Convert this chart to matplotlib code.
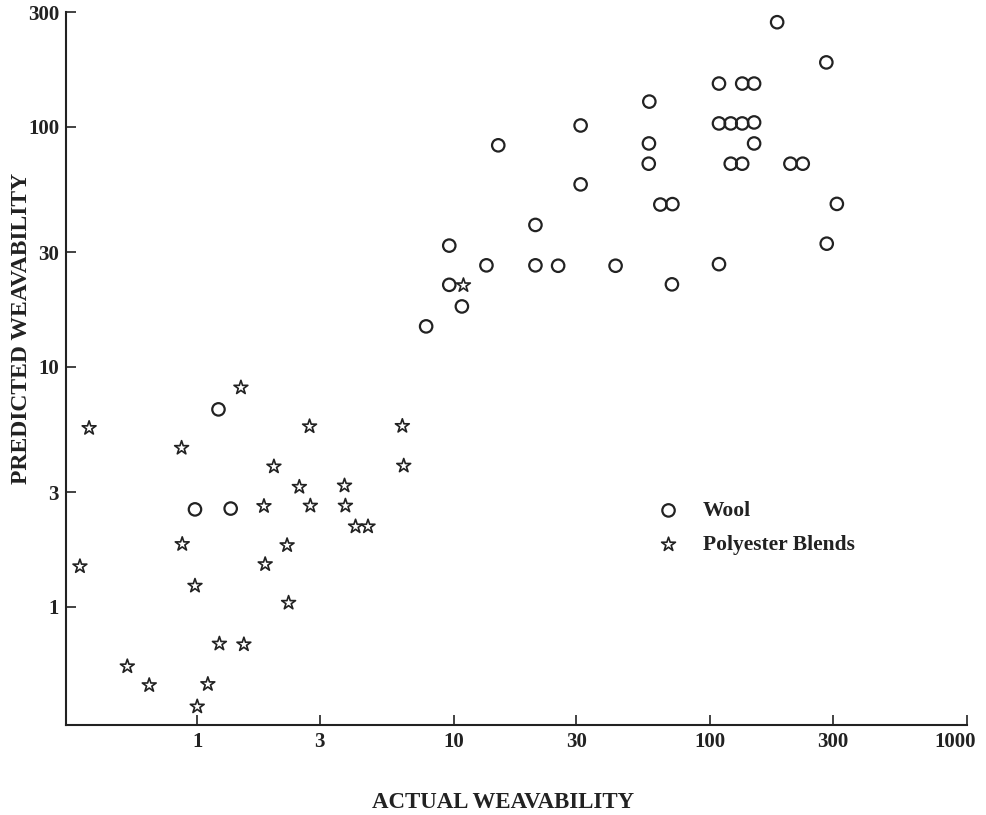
import matplotlib
matplotlib.use("Agg")
import matplotlib.pyplot as plt
import matplotlib.transforms as mtransforms
import numpy as np

# values (log-log)
wool_actual = [182, 283, 108, 133, 148, 57.8, 31.2, 108, 120, 133, 148,
               14.9, 57.6, 148, 57.5, 120, 133, 205, 229, 31.2, 63.8, 71.1,
               311, 20.8, 284, 9.6, 13.4, 20.8, 25.5, 42.7, 108, 70.8, 9.6,
               10.75, 7.8, 1.21, 0.98, 1.35]
wool_pred = [272, 185, 151, 151, 151, 127, 101, 103, 103, 103, 104,
             83.5, 85, 85, 70, 70, 70, 70, 70, 57.4, 47.3, 47.5,
             47.6, 38.9, 32.5, 31.9, 26.4, 26.4, 26.3, 26.3, 26.7, 22.0, 21.9,
             17.8, 14.7, 6.63, 2.54, 2.56]

poly_actual = [1.48, 0.379, 2.74, 6.3, 0.869, 1.99, 6.38, 2.50, 3.75, 1.82,
               2.76, 3.78, 4.14, 4.63, 0.874, 2.24, 0.349, 1.84, 0.98, 2.27,
               1.22, 1.52, 0.534, 0.65, 1.10, 1.0, 10.9]
poly_pred = [8.17, 5.54, 5.63, 5.65, 4.58, 3.83, 3.86, 3.15, 3.19, 2.62,
             2.63, 2.63, 2.155, 2.155, 1.82, 1.80, 1.47, 1.50, 1.22, 1.036,
             0.70, 0.695, 0.563, 0.470, 0.475, 0.383, 21.8]

x_ticks = [1, 3, 10, 30, 100, 300, 1000]
y_ticks = [1, 3, 10, 30, 100, 300]

ink = "#222222"
serif = "Liberation Serif"

fig = plt.figure(figsize=(9.86, 8.15), dpi=100)
ax = fig.add_axes([66 / 986, 90 / 815, 901 / 986, 713 / 815])

ax.scatter(wool_actual, wool_pred, s=80, marker="o", facecolors="none",
           edgecolors=ink, linewidths=1.6, label="Wool")
ax.scatter(poly_actual, poly_pred, s=110, marker="*", facecolors="none",
           edgecolors=ink, linewidths=1.2, label="Polyester Blends")

ax.set_xscale("log")
ax.set_yscale("log")
ax.set_xlim(0.308, 1000)
ax.set_ylim(0.321, 300)

ax.set_xticks(x_ticks)
ax.set_xticklabels([str(t) for t in x_ticks])
ax.set_yticks(y_ticks)
ax.set_yticklabels([str(t) for t in y_ticks])
ax.minorticks_off()
ax.tick_params(direction="in", length=7, width=1.2, colors=ink, pad=5)
for lab in ax.get_xticklabels() + ax.get_yticklabels():
    lab.set_fontfamily(serif)
    lab.set_fontweight("bold")
    lab.set_fontsize(15)

# the last label sits a little left of its tick, as in the print
last = ax.get_xticklabels()[-1]
last.set_transform(last.get_transform() +
                   mtransforms.ScaledTranslation(-0.12, 0, fig.dpi_scale_trans))

for side in ["top", "right"]:
    ax.spines[side].set_visible(False)
for side in ["left", "bottom"]:
    ax.spines[side].set_color(ink)
    ax.spines[side].set_linewidth(1.5)

fig.text(503 / 986, 1 - 803 / 815, "ACTUAL WEAVABILITY", ha="center",
         va="center", fontfamily=serif, fontweight="bold", fontsize=16.5,
         color=ink)
fig.text(22 / 986, 1 - 328 / 815, "PREDICTED WEAVABILITY", ha="center",
         va="center", rotation=90, fontfamily=serif, fontweight="bold",
         fontsize=17, color=ink)

leg = ax.legend(loc="upper left", bbox_to_anchor=(647 / 986, 1 - 501 / 815),
                bbox_transform=fig.transFigure, frameon=False, borderpad=0,
                borderaxespad=0, labelspacing=0.65, handletextpad=0.6,
                prop={"family": serif, "weight": "bold", "size": 15.5})
for t in leg.get_texts():
    t.set_color(ink)

fig.savefig("out.png", dpi=100)
